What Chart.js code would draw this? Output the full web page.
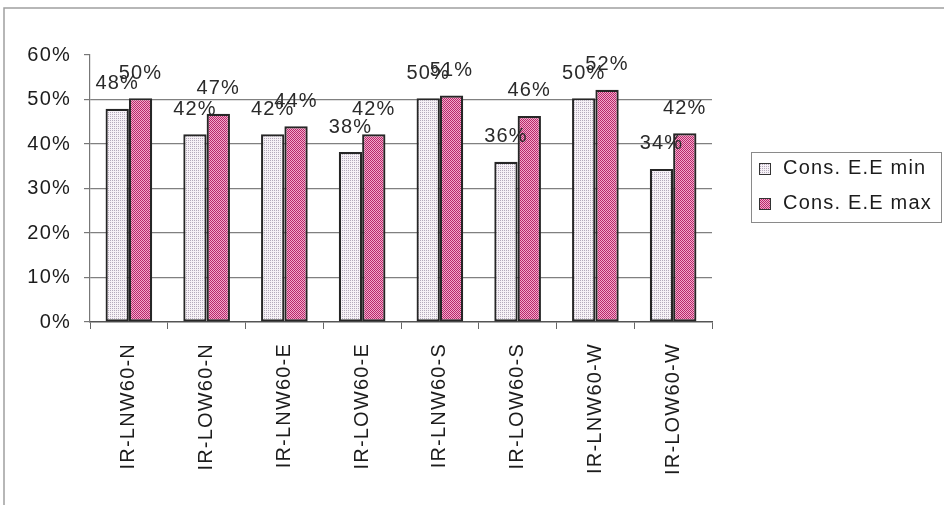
<!DOCTYPE html>
<html>
<head>
<meta charset="utf-8">
<script src="https://cdn.jsdelivr.net/npm/chart.js@4"></script>
<style>
  html, body { margin: 0; padding: 0; background: #fff; }
  #wrap { width: 944px; height: 505px; }
</style>
</head>
<body>
<div id="wrap"><canvas id="myChart" width="944" height="505"></canvas></div>
<script>
// chart values
const categories = ["IR-LNW60-N", "IR-LOW60-N", "IR-LNW60-E", "IR-LOW60-E", "IR-LNW60-S", "IR-LOW60-S", "IR-LNW60-W", "IR-LOW60-W"];
const minValues = [47.9, 42.2, 42.2, 38.2, 50.3, 36.0, 50.3, 34.4];
const maxValues = [50.3, 46.8, 44.0, 42.2, 50.9, 46.3, 52.2, 42.4];
const seriesNames = ["Cons. E.E min", "Cons. E.E max"];
const yTicks = [0, 10, 20, 30, 40, 50, 60];

const FONT = "'Liberation Sans', Arial, sans-serif";
const TEXT = "#1c1c1c";

// dotted fills like the old excel patterns
function makePattern(base, dot, size, dots) {
  const c = document.createElement("canvas");
  c.width = size;
  c.height = size;
  const g = c.getContext("2d");
  g.fillStyle = base;
  g.fillRect(0, 0, size, size);
  g.fillStyle = dot;
  dots.forEach(function (d) { g.fillRect(d[0], d[1], 1, 1); });
  return g.createPattern(c, "repeat");
}
const minFill = makePattern("#f6f1f6", "#b4aabb", 2, [[0, 0]]);
const maxFill = makePattern("#f2aacb", "#b8286a", 2, [[0, 0], [1, 1]]);

const spacingPlugin = {
  id: "spacing",
  beforeUpdate(chart) { chart.ctx.letterSpacing = "1.2px"; },
  beforeDraw(chart) {
    const ctx = chart.ctx;
    ctx.letterSpacing = "1.2px";
    ctx.save();
    ctx.fillStyle = "#fff";
    ctx.fillRect(0, 0, chart.width, chart.height);
    // outer frame (only top/left visible)
    ctx.strokeStyle = "#a0a0a0";
    ctx.lineWidth = 1.5;
    ctx.beginPath();
    ctx.moveTo(4, chart.height);
    ctx.lineTo(4, 8);
    ctx.lineTo(chart.width, 8);
    ctx.stroke();
    ctx.restore();
  }
};

const labelPlugin = {
  id: "valueLabels",
  afterDatasetsDraw(chart) {
    const ctx = chart.ctx;
    ctx.save();
    ctx.font = "20px " + FONT;
    ctx.fillStyle = "#2a2a2a";
    ctx.textAlign = "center";
    ctx.textBaseline = "middle";
    chart.data.datasets.forEach(function (ds, i) {
      chart.getDatasetMeta(i).data.forEach(function (bar, j) {
        ctx.fillText(Math.round(ds.data[j]) + "%", bar.x, bar.y - 25);
      });
    });
    ctx.restore();
  }
};

const legendPlugin = {
  id: "boxLegend",
  afterDraw(chart) {
    const ctx = chart.ctx;
    ctx.save();
    ctx.strokeStyle = "#8a8a8a";
    ctx.lineWidth = 1;
    ctx.strokeRect(751.5, 152.5, 190, 70);
    ctx.font = "20px " + FONT;
    ctx.textAlign = "left";
    ctx.textBaseline = "middle";
    chart.data.datasets.forEach(function (ds, i) {
      const y = 168 + i * 35;
      ctx.fillStyle = ds.backgroundColor;
      ctx.fillRect(759, y - 5, 11, 11);
      ctx.strokeStyle = "#333";
      ctx.strokeRect(759.5, y - 4.5, 11, 11);
      ctx.fillStyle = TEXT;
      ctx.fillText(ds.label, 783, y);
    });
    ctx.restore();
  }
};

const ctx = document.getElementById("myChart").getContext("2d");
const myChart = new Chart(ctx, {
  type: "bar",
  data: {
    labels: categories,
    datasets: [
      {
        label: seriesNames[0],
        data: minValues,
        backgroundColor: minFill,
        borderColor: "#262626",
        borderWidth: 2.2,
        borderSkipped: false,
      },
      {
        label: seriesNames[1],
        data: maxValues,
        backgroundColor: maxFill,
        borderColor: "#262626",
        borderWidth: 2.2,
        borderSkipped: false,
      },
    ],
  },
  options: {
    responsive: false,
    animation: false,
    devicePixelRatio: 1,
    layout: { padding: { top: 55, right: 232, left: 0, bottom: 0 } },
    datasets: { bar: { categoryPercentage: 0.6, barPercentage: 1.0 } },
    plugins: {
      legend: { display: false },
      tooltip: { enabled: false },
      title: { display: false },
    },
    scales: {
      x: {
        afterFit(scale) { scale.height = 183; },
        border: { display: true, color: "#555", width: 1.5 },
        grid: {
          offset: true,
          drawOnChartArea: false,
          drawTicks: true,
          tickLength: 7,
          tickColor: "#666",
        },
        ticks: {
          minRotation: 90,
          maxRotation: 90,
          padding: 14,
          color: TEXT,
          font: { family: FONT, size: 20 },
        },
      },
      y: {
        min: yTicks[0],
        max: yTicks[yTicks.length - 1],
        afterFit(scale) { scale.width = 90; },
        afterBuildTicks(scale) { scale.ticks = yTicks.map((v) => ({ value: v })); },
        border: { display: true, color: "#777", width: 1.2 },
        grid: {
          color: (c) => (c.tick && (c.tick.value === 60 || c.tick.value === 0) ? "rgba(0,0,0,0)" : "#808080"),
          lineWidth: 1.2,
          tickLength: 6,
          tickColor: "#777",
        },
        ticks: {
          padding: 13,
          color: TEXT,
          font: { family: FONT, size: 20 },
          callback: (v) => v + "%",
        },
      },
    },
  },
  plugins: [spacingPlugin, labelPlugin, legendPlugin],
});
</script>
</body>
</html>
